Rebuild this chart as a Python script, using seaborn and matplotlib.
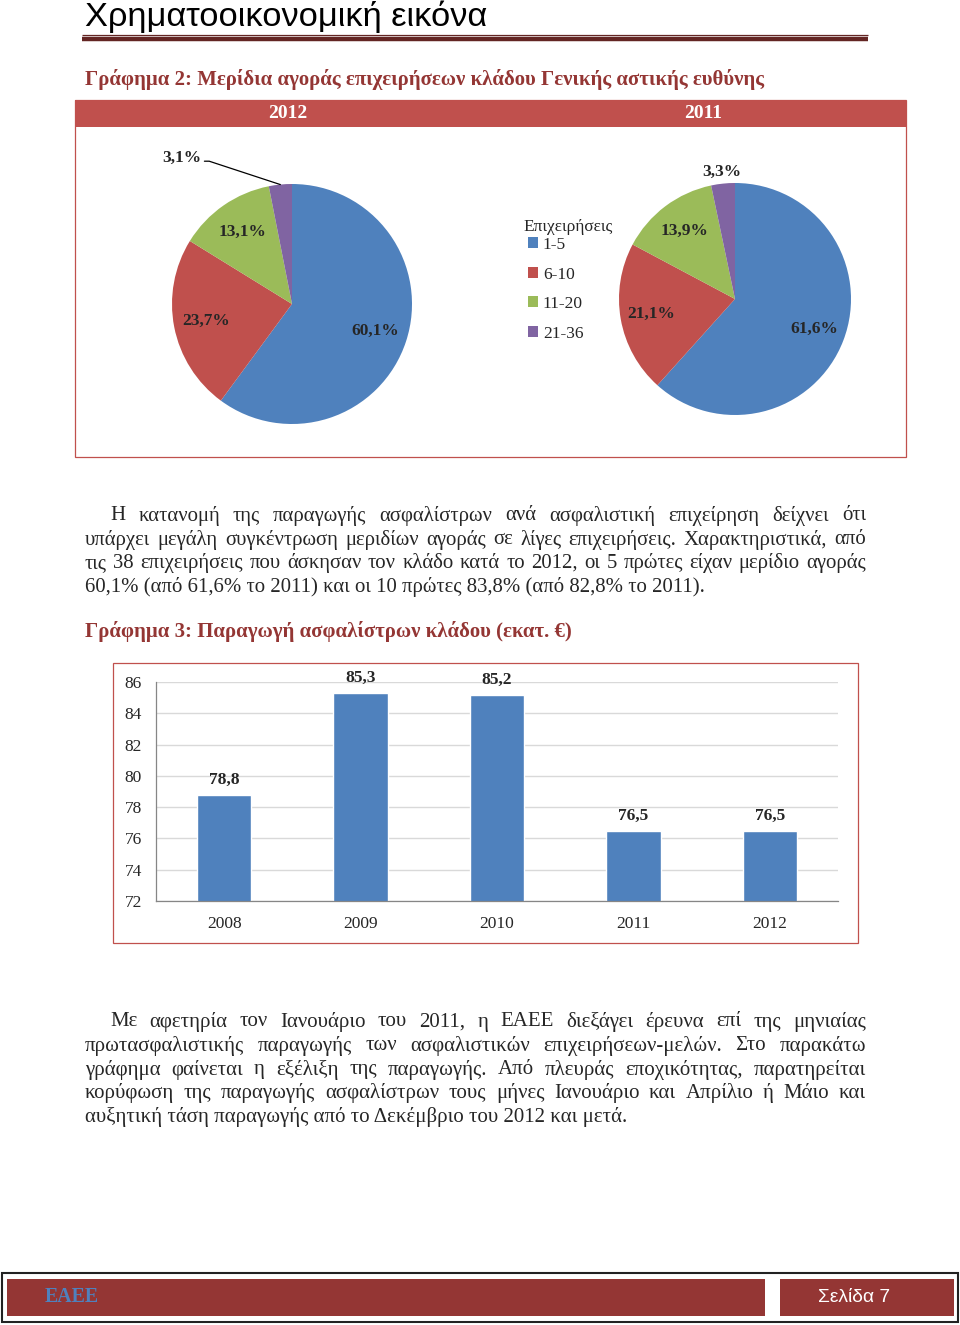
import matplotlib
matplotlib.use("Agg")
import matplotlib.pyplot as plt
import seaborn as sns
import numpy as np
import pandas as pd
from matplotlib.patches import Rectangle

# ---------------- data ----------------
page_title = "Χρηματοοικονομική εικόνα"
chart2_title = "Γράφημα 2: Μερίδια αγοράς επιχειρήσεων κλάδου Γενικής αστικής ευθύνης"
pie_years = ["2012", "2011"]
size_groups = ["1-5", "6-10", "11-20", "21-36"]
shares_2012 = [60.1, 23.7, 13.1, 3.1]
shares_2011 = [61.6, 21.1, 13.9, 3.3]
legend_title = "Επιχειρήσεις"
para1_lines = [
    "Η κατανομή της παραγωγής ασφαλίστρων ανά ασφαλιστική επιχείρηση δείχνει ότι",
    "υπάρχει μεγάλη συγκέντρωση μεριδίων αγοράς σε λίγες επιχειρήσεις. Χαρακτηριστικά, από",
    "τις 38 επιχειρήσεις που άσκησαν τον κλάδο κατά το 2012, οι 5 πρώτες είχαν μερίδιο αγοράς",
    "60,1% (από 61,6% το 2011) και οι 10 πρώτες 83,8% (από 82,8% το 2011).",
]
chart3_title = "Γράφημα 3: Παραγωγή ασφαλίστρων κλάδου (εκατ. €)"
years = ["2008", "2009", "2010", "2011", "2012"]
premiums = [78.8, 85.3, 85.2, 76.5, 76.5]
y_ticks = [72, 74, 76, 78, 80, 82, 84, 86]
para2_lines = [
    "Με αφετηρία τον Ιανουάριο του 2011, η ΕΑΕΕ διεξάγει έρευνα επί της μηνιαίας",
    "πρωτασφαλιστικής παραγωγής των ασφαλιστικών επιχειρήσεων-μελών. Στο παρακάτω",
    "γράφημα φαίνεται η εξέλιξη της παραγωγής. Από πλευράς εποχικότητας, παρατηρείται",
    "κορύφωση της παραγωγής ασφαλίστρων τους μήνες Ιανουάριο και Απρίλιο ή Μάιο και",
    "αυξητική τάση παραγωγής από το Δεκέμβριο του 2012 και μετά.",
]
footer_left = "ΕΑΕΕ"
footer_right = "Σελίδα 7"

# ---------------- style ----------------
sns.set_style("white")
plt.rcParams["font.family"] = ["Liberation Serif", "DejaVu Serif"]
SERIF = ["Liberation Serif", "DejaVu Serif"]
NARROW = ["Liberation Sans Narrow", "Liberation Sans", "DejaVu Sans"]
BLUE, RED, GREEN, PURPLE = "#4f81bd", "#c0504d", "#9bbb59", "#8064a2"
PIE_COLORS = [BLUE, RED, GREEN, PURPLE]
DARKRED = "#943634"

W, H = 960, 1325
fig = plt.figure(figsize=(W / 100, H / 100), dpi=100)
fig.patch.set_facecolor("white")
page = fig.add_axes([0, 0, 1, 1], zorder=0)
page.set_xlim(0, W)
page.set_ylim(H, 0)
page.axis("off")
renderer = fig.canvas.get_renderer()


def width_of(t):
    return t.get_window_extent(renderer=renderer).width


def fit_size(s, target, **kw):
    t = page.text(0, 0, s, fontsize=20, **kw)
    w = width_of(t)
    t.remove()
    return 20 * target / w


def fitted_text(x0, x1, y, s, va="center", **kw):
    fs = fit_size(s, x1 - x0, **kw)
    return page.text(x0, y, s, fontsize=fs, ha="left", va=va, **kw)


def paragraph(lines, x_first, x0, x1, y0, dy, last_width):
    fs = fit_size(lines[-1], last_width, family=SERIF)
    for i, line in enumerate(lines):
        y = y0 + i * dy
        xs = x_first if i == 0 else x0
        if i == len(lines) - 1:
            page.text(xs, y, line, fontsize=fs, family=SERIF, ha="left", va="center")
            continue
        words = line.split(" ")
        ts = [page.text(0, y, w, fontsize=fs, family=SERIF, ha="left", va="center") for w in words]
        ws = [width_of(t) for t in ts]
        gap = (x1 - xs - sum(ws)) / (len(ws) - 1)
        x = xs
        for t, w in zip(ts, ws):
            t.set_x(x)
            x += w + gap


# ---------------- page header ----------------
fitted_text(85, 487, 26, page_title, va="baseline", family=NARROW, color="black")
page.plot([82, 868], [34.5, 34.5], color="#632523", lw=0.9, solid_capstyle="butt")
page.plot([82, 868], [39, 39], color="#632523", lw=3.2, solid_capstyle="butt")

fitted_text(85, 762, 79, chart2_title, family=SERIF, fontweight="bold", color=DARKRED)

# pie box with header band
page.add_patch(Rectangle((75, 100), 831, 357, facecolor="white", edgecolor="#c0504d", lw=0.9))
page.add_patch(Rectangle((75, 100), 831, 27, facecolor="#c0504d", edgecolor="none"))
for x, yr in zip([288, 703], pie_years):
    page.text(x, 113, yr, ha="center", va="center", color="white", fontsize=14,
              fontweight="bold", family=SERIF)


def pie_axes(cx, cy, r):
    return fig.add_axes([(cx - r) / W, 1 - (cy + r) / H, 2 * r / W, 2 * r / H], zorder=2)


def draw_pie(ax, values, small_pos):
    wedges, _ = ax.pie(values, colors=PIE_COLORS, startangle=90, counterclock=False,
                       radius=1, wedgeprops=dict(linewidth=0))
    ax.set_xlim(-1, 1)
    ax.set_ylim(-1, 1)
    ax.set_aspect("equal")
    ax.axis("off")
    for i, (wdg, v) in enumerate(zip(wedges, values)):
        mid = np.deg2rad((wdg.theta1 + wdg.theta2) / 2)
        lab = f"{v:.1f}%".replace(".", ",")
        if i < len(values) - 1:
            ax.text(0.73 * np.cos(mid), 0.73 * np.sin(mid), lab, ha="center", va="center",
                    fontsize=12.5, fontweight="bold", family=SERIF, clip_on=False)
        else:
            if small_pos is None:
                ax.text(1.1 * np.cos(mid), 1.1 * np.sin(mid), lab, ha="center", va="center",
                        fontsize=12.5, fontweight="bold", family=SERIF, clip_on=False)
            else:
                tx, ty = small_pos
                ax.text(tx, ty, lab, ha="center", va="center", fontsize=12.5,
                        fontweight="bold", family=SERIF, clip_on=False)
                ax.plot([tx + 0.19, tx + 0.23, np.cos(mid)], [ty - 0.03, ty - 0.03, np.sin(mid)],
                        color="black", lw=0.9, clip_on=False)
    return wedges


ax_l = pie_axes(292, 304, 120)
wl = draw_pie(ax_l, shares_2012, (-0.92, 1.22))
ax_r = pie_axes(735, 299, 116)
wr = draw_pie(ax_r, shares_2011, None)

page.text(568, 227, legend_title, ha="center", va="center", fontsize=12.5, family=SERIF)
leg = fig.legend(wl, size_groups, loc="upper left", bbox_to_anchor=(528 / W, 1 - 237 / H),
                 bbox_transform=fig.transFigure, frameon=False, fontsize=12.5,
                 handlelength=0.6, handleheight=0.6, handletextpad=0.25,
                 labelspacing=0.78, borderpad=0, borderaxespad=0)
for t in leg.get_texts():
    t.set_family(SERIF)

# ---------------- paragraph 1 ----------------
paragraph(para1_lines, 110, 85, 866, 516, 23.7, 706 - 85)

fitted_text(85, 570, 632, chart3_title, family=SERIF, fontweight="bold", color=DARKRED)

# ---------------- bar chart ----------------
page.add_patch(Rectangle((113, 663), 745, 280, facecolor="white", edgecolor="#c0504d", lw=0.9))
axb = fig.add_axes([156 / W, 1 - 901 / H, (838 - 156) / W, (901 - 682) / H], zorder=2)
axb.set_facecolor("none")
df = pd.DataFrame({"year": years, "value": premiums})
sns.barplot(data=df, x="year", y="value", color=BLUE, saturation=1, width=0.4, ax=axb)
axb.set_axisbelow(True)
axb.set_ylim(72, 86)
axb.set_xlim(-0.5, len(years) - 0.5)
axb.set_yticks(y_ticks)
axb.yaxis.grid(True, color="#d9d9d9", lw=1)
axb.xaxis.grid(False)
axb.set_xlabel("")
axb.set_ylabel("")
for s in ["top", "right"]:
    axb.spines[s].set_visible(False)
for s in ["left", "bottom"]:
    axb.spines[s].set_color("#868686")
    axb.spines[s].set_linewidth(0.9)
axb.tick_params(axis="y", length=5, width=0.9, color="#868686", pad=5, labelsize=12.5)
axb.tick_params(axis="x", which="major", length=0, pad=10.5, labelsize=12.5)
axb.set_xticks(np.arange(-0.5, len(years)), minor=True)
axb.tick_params(axis="x", which="minor", length=5, width=0.9, color="#868686")
for lab in axb.get_xticklabels() + axb.get_yticklabels():
    lab.set_family(SERIF)
axb.bar_label(axb.containers[0], labels=[f"{v:.1f}".replace(".", ",") for v in premiums],
              padding=5, fontsize=12.5, fontweight="bold", family=SERIF)

# ---------------- paragraph 2 ----------------
paragraph(para2_lines, 110, 85, 866, 1022, 23.8, 624 - 85)

# ---------------- footer ----------------
page.add_patch(Rectangle((2, 1273), 956, 49, facecolor="white", edgecolor="#222222", lw=1.5))
page.add_patch(Rectangle((7, 1279), 758, 37, facecolor=DARKRED, edgecolor="none"))
page.add_patch(Rectangle((780, 1279), 174, 37, facecolor=DARKRED, edgecolor="none"))
fitted_text(45, 99, 1297, footer_left, family=SERIF, fontweight="bold", color=BLUE)
fitted_text(818, 890, 1297, footer_right, family=NARROW, color="white")

fig.savefig("out.png", dpi=100)
